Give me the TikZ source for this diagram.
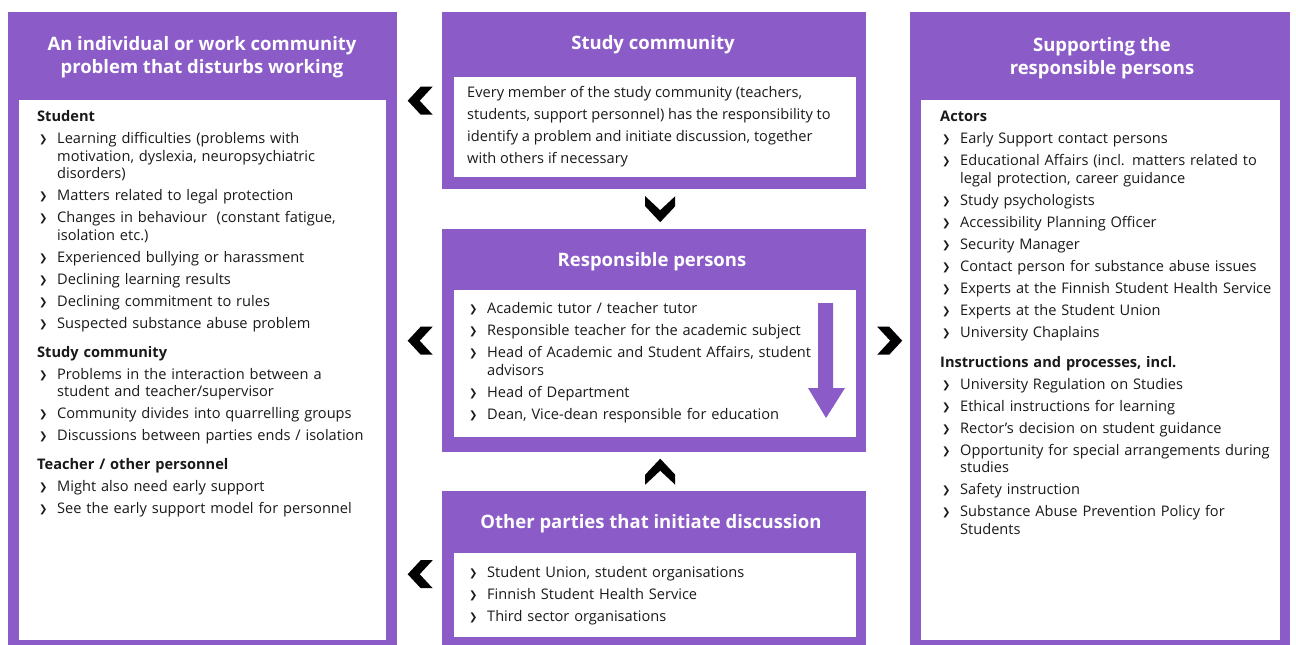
\documentclass[tikz,border=0pt]{standalone}
\usepackage{fontspec}
\setmainfont{Open Sans}
\newfontfamily\symfont{DejaVu Sans}
\usetikzlibrary{calc}
\definecolor{purp}{RGB}{139,92,200}
\definecolor{ink}{RGB}{25,25,25}
\newcommand\nl{\hfil\break}
\newcommand\bitem[2][4.5pt]{\par\vspace{#1}\noindent\hangindent=20pt\hangafter=1\makebox[20pt][l]{\hspace{2pt}\raisebox{0.8pt}{\symfont\fontsize{10}{10}\selectfont ❯}}#2}
\newcommand\bhead[2][11.5pt]{\par\vspace{#1}\noindent{\bfseries #2}}
\tikzset{
  panel/.style={fill=purp, draw=none, inner sep=0pt, anchor=north west},
  inner/.style={fill=white, draw=none, inner sep=0pt, anchor=north west},
  title/.style={text=white, font=\bfseries\fontsize{18.5}{23}\selectfont, align=center, inner sep=0pt},
  list/.style={text=ink, font=\fontsize{14.6}{17.5}\selectfont, anchor=north west, inner sep=0pt, text width=#1},
  chevL/.pic={\fill[black] (13,-14) -- (1,-14) -- (-12,0) -- (1,14) -- (13,14) -- (0,0) -- cycle;},
  chevR/.pic={\fill[black] (-13,-14) -- (-1,-14) -- (12,0) -- (-1,14) -- (-13,14) -- (0,0) -- cycle;},
  chevD/.pic={\fill[black] (-15,-13) -- (-15,-3) -- (0,13) -- (15,-3) -- (15,-13) -- (0,1) -- cycle;},
  chevU/.pic={\fill[black] (-15,13) -- (-15,3) -- (0,-13) -- (15,3) -- (15,13) -- (0,-1) -- cycle;},
}
\begin{document}
\begin{tikzpicture}[x=1pt,y=-1pt]
\useasboundingbox (0,0) rectangle (1296,645);
% panels
\node[panel, minimum width=389pt, minimum height=640pt] (L) at (8,12) {};
\node[inner, minimum width=367pt, minimum height=540pt] (Li) at (19,100) {};
\node[panel, minimum width=424pt, minimum height=177pt] (T) at (442,12) {};
\node[inner, minimum width=402pt, minimum height=100pt] (Ti) at (454,77) {};
\node[panel, minimum width=424pt, minimum height=223pt] (M) at (442,229) {};
\node[inner, minimum width=402pt, minimum height=147pt] (Mi) at (454,290) {};
\node[panel, minimum width=424pt, minimum height=160pt] (B) at (442,491) {};
\node[inner, minimum width=402pt, minimum height=84pt] (Bi) at (454,553) {};
\node[panel, minimum width=380pt, minimum height=640pt] (R) at (910,12) {};
\node[inner, minimum width=359pt, minimum height=540pt] (Ri) at (921,100) {};
% titles
\node[title] (Lt) at (202,57) {An individual or work community\\problem that disturbs working};
\node[title] (Tt) at (653,45) {Study community};
\node[title] (Mt) at (652,262) {Responsible persons};
\node[title] (Bt) at (651,524) {Other parties that initiate discussion};
\node[title] (Rt) at (1102,58) {Supporting the\\responsible persons};
% texts
\node[list=360pt] (Lx) at (37,104) {%
\bhead[0pt]{Student}
\bitem{Learning difficulties (problems with\nl motivation, dyslexia, neuropsychiatric\nl disorders)}
\bitem{Matters related to legal protection}
\bitem{Changes in behaviour~ (constant fatigue,\nl isolation etc.)}
\bitem{Experienced bullying or harassment}
\bitem{Declining learning results}
\bitem{Declining commitment to rules}
\bitem{Suspected substance abuse problem}
\bhead{Study community}
\bitem{Problems in the interaction between a\nl student and teacher/supervisor}
\bitem{Community divides into quarrelling groups}
\bitem{Discussions between parties ends / isolation}
\bhead{Teacher / other personnel}
\bitem{Might also need early support}
\bitem{See the early support model for personnel}\par};
\node[text=ink, font=\fontsize{14.6}{22}\selectfont, anchor=north west, inner sep=0pt, align=left] (Tx) at (467,86.5) {Every member of the study community (teachers,\\students, support personnel) has the responsibility to\\identify a problem and initiate discussion, together\\with others if necessary};
\node[list=380pt] (Mx) at (467,296) {%
\bitem[0pt]{Academic tutor / teacher tutor}
\bitem{Responsible teacher for the academic subject}
\bitem{Head of Academic and Student Affairs, student\nl advisors}
\bitem{Head of Department}
\bitem{Dean, Vice-dean responsible for education}\par};
\node[list=380pt] (Bx) at (467,560) {%
\bitem[0pt]{Student Union, student organisations}
\bitem{Finnish Student Health Service}
\bitem{Third sector organisations}\par};
\node[list=350pt] (Rx) at (940,104) {%
\bhead[0pt]{Actors}
\bitem{Early Support contact persons}
\bitem{Educational Affairs (incl. matters related to\nl legal protection, career guidance}
\bitem{Study psychologists}
\bitem{Accessibility Planning Officer}
\bitem{Security Manager}
\bitem{Contact person for substance abuse issues}
\bitem{Experts at the Finnish Student Health Service}
\bitem{Experts at the Student Union}
\bitem{University Chaplains}
\bhead[12.5pt]{Instructions and processes, incl.}
\bitem{University Regulation on Studies}
\bitem{Ethical instructions for learning}
\bitem{Rector's decision on student guidance}
\bitem{Opportunity for special arrangements during\nl studies}
\bitem{Safety instruction}
\bitem{Substance Abuse Prevention Policy for\nl Students}\par};
% downward arrow in responsible persons
\fill[purp] (818,303) -- (833,303) -- (833,388) -- (845,388) -- (826,418) -- (808,388) -- (818,388) -- cycle;
% chevrons
\pic at ($(L.east|-T.center)!0.5!(T.west)$) {chevL};
\pic at ($(L.east|-M.center)!0.5!(M.west)$) {chevL};
\pic at ($(L.east|-B.center)!0.5!(B.west)+(0,3)$) {chevL};
\pic at ($(T.south)!0.5!(M.north)+(6,0)$) {chevD};
\pic at ($(M.south)!0.5!(B.north)+(6,0)$) {chevU};
\pic at ($(M.east)!0.5!(R.west|-M.east)+(2,0)$) {chevR};
\end{tikzpicture}
\end{document}
